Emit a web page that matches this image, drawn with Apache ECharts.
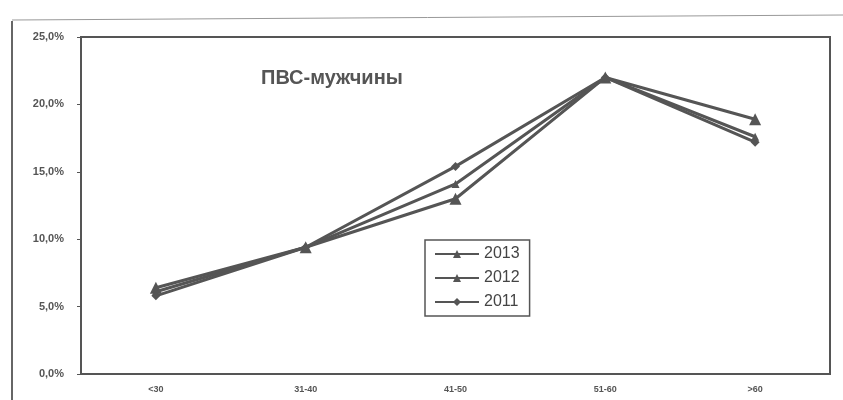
<!DOCTYPE html>
<html><head><meta charset="utf-8">
<script src="https://cdn.jsdelivr.net/npm/echarts@6/dist/echarts.min.js"></script>
<style>html,body{margin:0;padding:0;background:#fff}#c{width:843px;height:400px}</style>
</head><body><div id="c"></div>
<script>
const categories = ['<30', '31-40', '41-50', '51-60', '>60'];
const s2013 = [6.4, 9.4, 13.0, 22.0, 18.9];
const s2012 = [6.1, 9.4, 14.1, 22.0, 17.6];
const s2011 = [5.8, 9.4, 15.4, 22.0, 17.2];
const yTicks = [0, 5, 10, 15, 20, 25];
const titleText = 'ПВС-мужчины';

const col = '#555';
const chart = echarts.init(document.getElementById('c'));
function mk(name, data, symbol, size) {
  return { name, type: 'line', data, symbol, symbolSize: size,
    lineStyle: { color: col, width: 3 }, itemStyle: { color: col } };
}
chart.setOption({
  animation: false,
  backgroundColor: '#fff',
  title: { text: titleText, left: 256, top: 63,
    textStyle: { fontFamily: 'Liberation Sans', fontSize: 20, fontWeight: 'bold', color: '#555' } },
  grid: { left: 81, right: 13, top: 37, bottom: 26, show: true, borderColor: col, borderWidth: 2 },
  legend: { orient: 'vertical', left: 425, top: 240, itemWidth: 44, itemHeight: 10, itemGap: 8,
    padding: [6, 10, 6, 9], borderColor: col, borderWidth: 1.5, backgroundColor: '#fff',
    textStyle: { fontFamily: 'Liberation Sans', fontSize: 16, color: '#444' },
    data: ['2013', '2012', '2011'] },
  xAxis: { type: 'category', data: categories, boundaryGap: true,
    axisLine: { lineStyle: { color: col, width: 2 } }, axisTick: { show: false },
    axisLabel: { fontFamily: 'Liberation Sans', fontSize: 9, fontWeight: 'bold', color: '#555', margin: 11 } },
  yAxis: { type: 'value', min: yTicks[0], max: yTicks[yTicks.length - 1], interval: 5,
    axisLine: { show: true, lineStyle: { color: col, width: 2 } },
    axisTick: { show: true, length: 4, lineStyle: { color: col } },
    splitLine: { show: false },
    axisLabel: { fontFamily: 'Liberation Sans', fontSize: 11, fontWeight: 'bold', color: '#555', margin: 17,
      formatter: v => v.toFixed(1).replace('.', ',') + '%' } },
  graphic: [
    { type: 'line', shape: { x1: 12, y1: 21, x2: 12, y2: 400 }, style: { stroke: '#666', lineWidth: 2 } },
    { type: 'line', shape: { x1: 12, y1: 20, x2: 843, y2: 15 }, style: { stroke: '#999', lineWidth: 1 } }
  ],
  series: [
    mk('2013', s2013, 'triangle', 12),
    mk('2012', s2012, 'triangle', 8),
    mk('2011', s2011, 'diamond', 9)
  ]
});
</script></body></html>
